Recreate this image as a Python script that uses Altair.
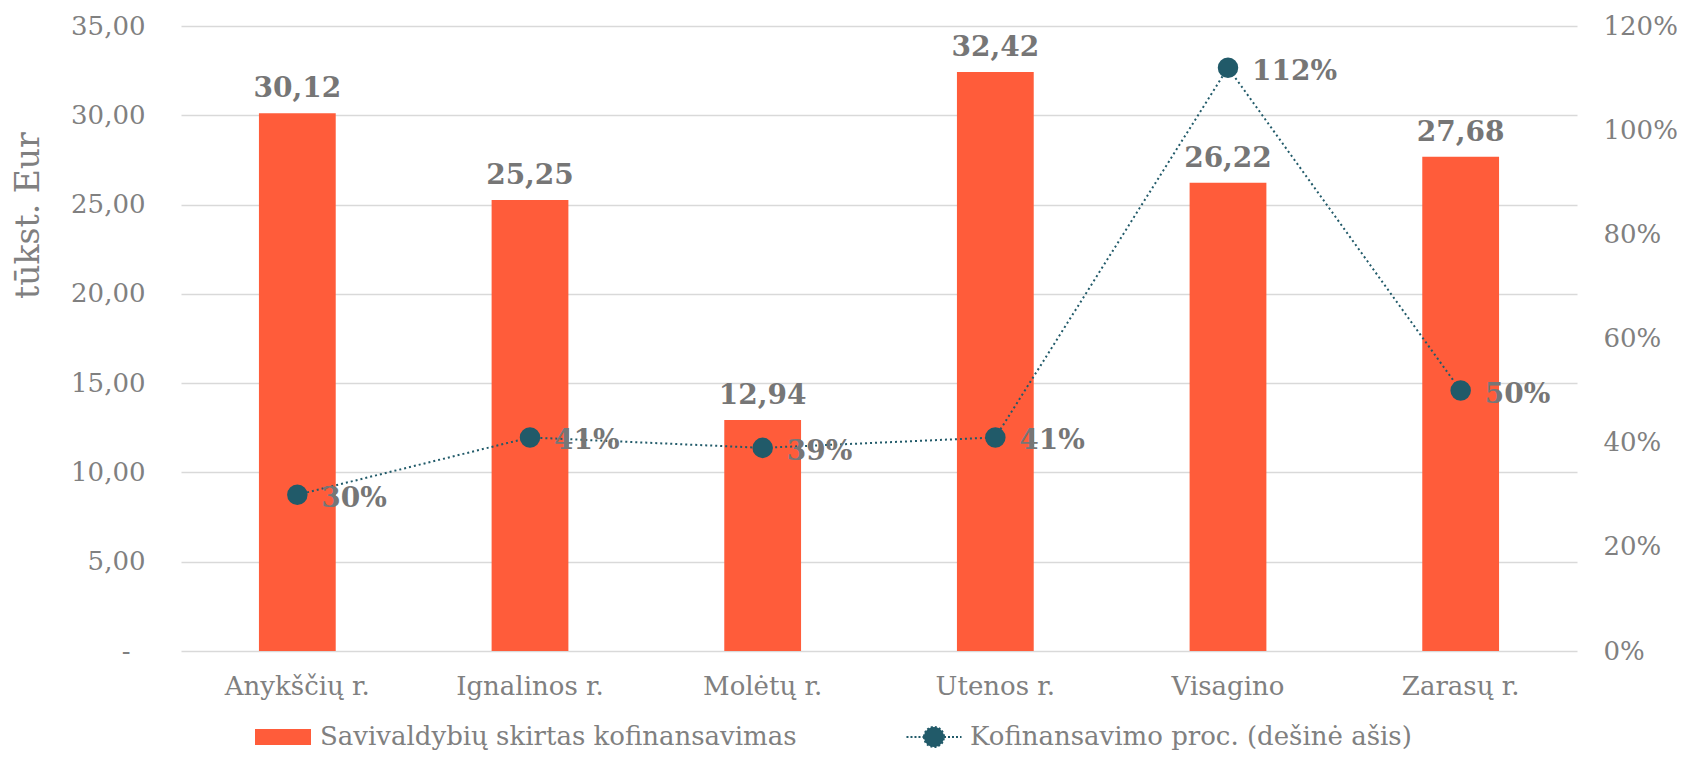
import altair as alt
import pandas as pd

categories = ["Anykščių r.", "Ignalinos r.", "Molėtų r.", "Utenos r.", "Visagino", "Zarasų r."]
funding = [30.12, 25.25, 12.94, 32.42, 26.22, 27.68]
share = [0.30, 0.41, 0.39, 0.41, 1.12, 0.50]
left_ticks = [0, 5, 10, 15, 20, 25, 30, 35]
right_ticks = [0, 0.2, 0.4, 0.6, 0.8, 1.0, 1.2]
bar_series = "Savivaldybių skirtas kofinansavimas"
line_series = "Kofinansavimo proc. (dešinė ašis)"

BAR = "#FF5C3A"
LINE = "#215A69"
TXT = "#767676"
AX = "#808080"
FONT = "DejaVu Serif"

df = pd.DataFrame({
    "cat": categories,
    "funding": funding,
    "share": share,
    "s1": [bar_series] * len(categories),
    "s2": [line_series] * len(categories),
})

xenc = alt.X("cat:N", sort=categories, title=None,
             scale=alt.Scale(paddingInner=0.67, paddingOuter=0.335),
             axis=alt.Axis(labelFont=FONT, labelFontSize=26, labelColor=AX, labelPadding=22,
                           ticks=False, domain=False, labelAngle=0))

yleft = alt.Y("funding:Q", scale=alt.Scale(domain=[0, 35], nice=False),
              axis=alt.Axis(values=left_ticks, title="tūkst. Eur",
                            labelExpr="datum.value == 0 ? '-' : replace(format(datum.value, '.2f'), '.', ',')",
                            labelFont=FONT, labelFontSize=26, labelColor=AX,
                            labelPadding={"condition": {"test": "datum.value == 0", "value": 51}, "value": 36},
                            ticks=False, domain=False, grid=True, gridColor="#D9D9D9", gridWidth=1.5,
                            titleFont=FONT, titleFontSize=33, titleColor=AX, titleFontWeight="normal",
                            titleAngle=-90, titleX=-153, titleY=189, titleAlign="center",
                            titleBaseline="middle"))

bars = alt.Chart(df).mark_bar().encode(
    x=xenc,
    y=yleft,
    fill=alt.Fill("s1:N", scale=alt.Scale(domain=[bar_series], range=[BAR]),
                  legend=alt.Legend(title=None, orient="none", legendX=89, legendY=698,
                                    symbolType="M-3.5,-1H3.5V1H-3.5Z", symbolSize=256,
                                    symbolStrokeWidth=0, labelLimit=0,
                                    labelFont=FONT, labelFontSize=26, labelColor=AX,
                                    labelOffset=24)),
)

bar_labels = alt.Chart(df).transform_calculate(
    lbl="replace(format(datum.funding, '.2f'), '.', ',')"
).mark_text(font=FONT, fontSize=28, fontWeight="bold", color=TXT,
            baseline="alphabetic", dy=-16).encode(
    x=alt.X("cat:N", sort=categories),
    y=alt.Y("funding:Q"),
    text="lbl:N",
)

yright = alt.Y("share:Q", scale=alt.Scale(domain=[0, 1.2], nice=False),
               axis=alt.Axis(orient="right", values=right_ticks, format=".0%", title=None,
                             labelFont=FONT, labelFontSize=26, labelColor=AX, labelPadding=26,
                             ticks=False, domain=False, grid=False))

line = alt.Chart(df).mark_line(strokeWidth=2, strokeDash=[2, 3]).encode(
    x=alt.X("cat:N", sort=categories),
    y=yright,
    stroke=alt.Stroke("s2:N", scale=alt.Scale(domain=[line_series], range=[LINE]),
                      legend=alt.Legend(title=None, orient="none", legendX=740, legendY=698,
                                        symbolType="M-3.44,0H-1.25M1.25,0H3.44M-1.25,0A1.25,1.25 0 1,0 1.25,0A1.25,1.25 0 1,0 -1.25,0Z",
                                        symbolSize=256, symbolStrokeWidth=2, symbolDash=[2, 2],
                                        symbolFillColor=LINE, labelLimit=0,
                                        labelFont=FONT, labelFontSize=26, labelColor=AX,
                                        labelOffset=23)),
)

points = alt.Chart(df).mark_point(filled=True, size=420, color=LINE, opacity=1).encode(
    x=alt.X("cat:N", sort=categories),
    y=alt.Y("share:Q"),
)

pct_labels = alt.Chart(df).transform_calculate(
    lbl="format(datum.share, '.0%')"
).mark_text(font=FONT, fontSize=28, fontWeight="bold", color=TXT,
            align="left", baseline="middle", dx=24, dy=4).encode(
    x=alt.X("cat:N", sort=categories),
    y=alt.Y("share:Q"),
    text="lbl:N",
)

chart = alt.layer(
    alt.layer(bars, bar_labels),
    alt.layer(line, points, pct_labels),
).resolve_scale(y="independent", fill="independent", stroke="independent").properties(
    width=1396, height=625,
    background="white",
    autosize=alt.AutoSizeParams(type="none"),
    padding={"left": 173, "top": 18, "right": 100, "bottom": 101},
).configure_view(strokeWidth=0, stroke=None)

chart.save("out.html", embed_options={"renderer": "svg", "actions": False})
